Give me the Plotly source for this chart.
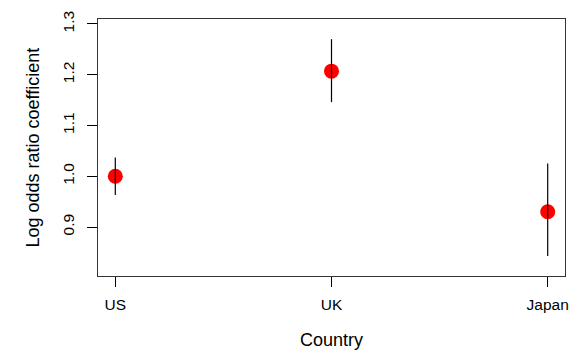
import plotly.graph_objects as go

countries = ["US", "UK", "Japan"]
x_pos = [1, 2, 3]
coef = [1.000, 1.207, 0.930]
ci_low = [0.963, 1.146, 0.843]
ci_high = [1.037, 1.270, 1.025]
y_ticks = [0.9, 1.0, 1.1, 1.2, 1.3]

font_family = "Liberation Sans, Arial, Helvetica, sans-serif"

seg_x, seg_y = [], []
for xp, lo, hi in zip(x_pos, ci_low, ci_high):
    seg_x += [xp, xp, None]
    seg_y += [lo, hi, None]

fig = go.Figure()
fig.add_trace(go.Scatter(
    x=x_pos, y=coef, mode="markers",
    marker=dict(color="#FF0000", size=15, line=dict(width=0)),
    showlegend=False, hoverinfo="x+y"))
fig.add_trace(go.Scatter(
    x=seg_x, y=seg_y, mode="lines",
    line=dict(color="black", width=1.2),
    showlegend=False, hoverinfo="skip"))

fig.update_layout(
    width=580, height=352,
    margin=dict(l=98, r=11, t=14, b=76),
    paper_bgcolor="white", plot_bgcolor="white",
    font=dict(family=font_family, color="black", size=15),
    xaxis=dict(range=[0.92, 3.08], tickmode="array", tickvals=x_pos, ticktext=countries,
               showgrid=False, zeroline=False, showline=True, mirror=True,
               linecolor="#333333", linewidth=1.2,
               ticks="outside", ticklen=10, tickwidth=1, tickcolor="black",
               tickfont=dict(size=15.5), ticklabelstandoff=4, fixedrange=True),
    yaxis=dict(range=[0.8035, 1.3097], tickmode="array", tickvals=y_ticks,
               ticktext=["0.9", "1.0", "1.1", "1.2", "1.3"],
               showgrid=False, zeroline=False, showline=True, mirror=True,
               linecolor="#333333", linewidth=1.2,
               ticks="outside", ticklen=10, tickwidth=1, tickcolor="black",
               tickangle=-90, tickfont=dict(size=15.5), ticklabelstandoff=7,
               fixedrange=True),
    annotations=[
        dict(text="Country", xref="paper", yref="paper", x=0.5, y=0,
             yshift=-64, showarrow=False, font=dict(size=18), yanchor="middle"),
        dict(text="Log odds ratio coefficient", xref="paper", yref="paper", x=0, y=0.5,
             xshift=-66, showarrow=False, font=dict(size=18), textangle=-90,
             xanchor="center", yanchor="middle"),
    ],
)

fig.write_html("out.html")
